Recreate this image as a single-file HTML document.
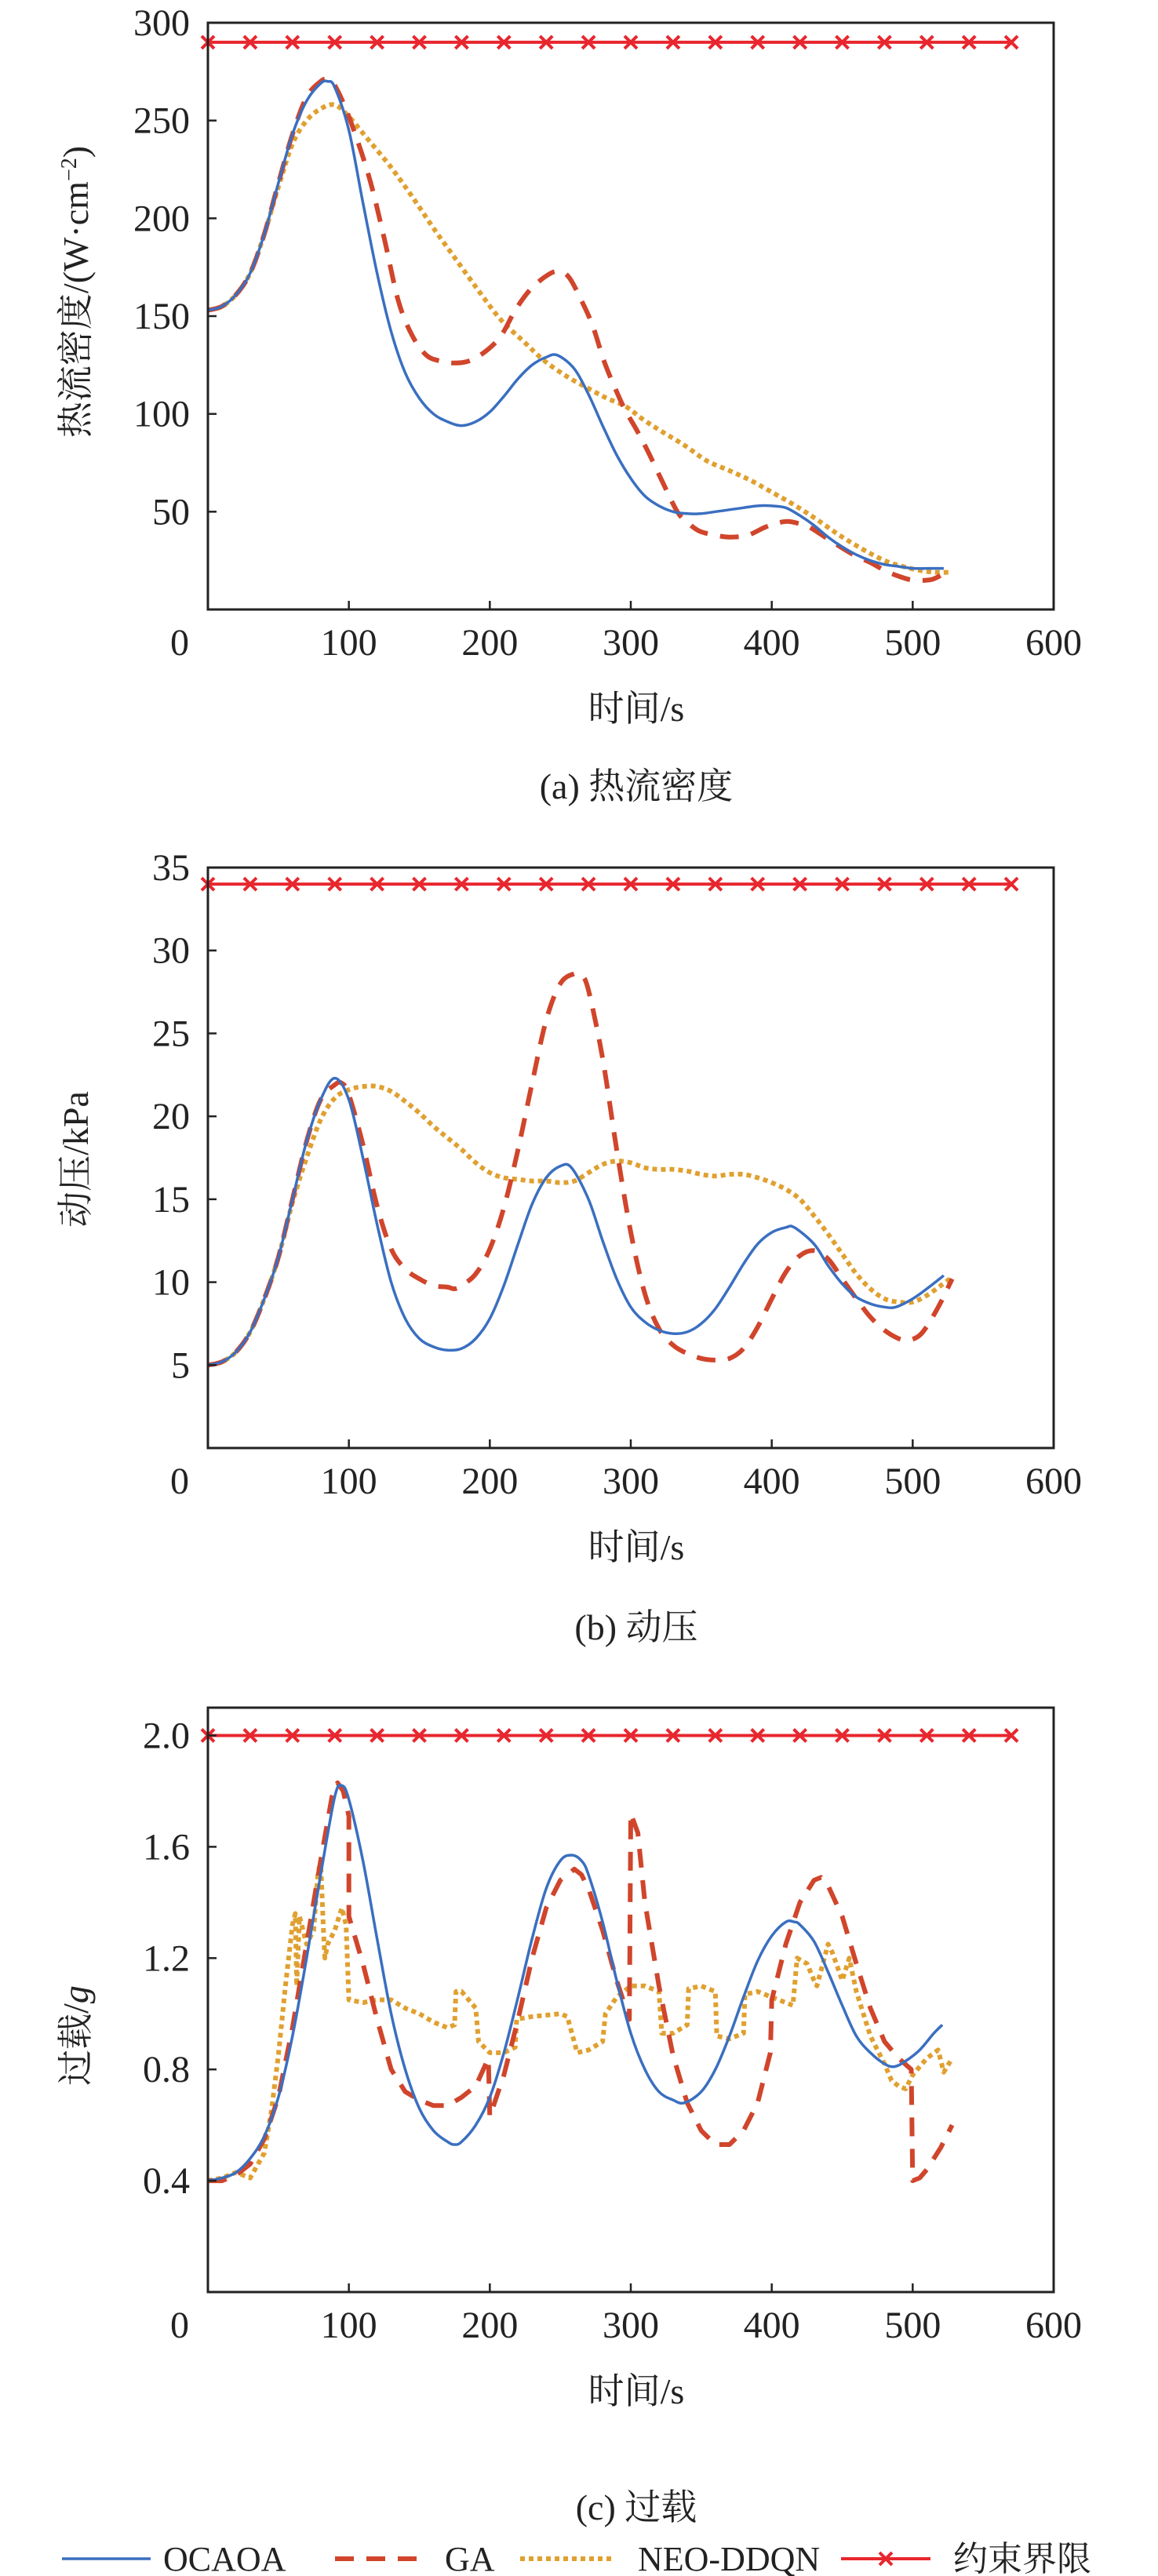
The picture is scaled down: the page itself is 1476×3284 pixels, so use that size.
<!DOCTYPE html>
<html><head><meta charset="utf-8">
<style>
html,body{margin:0;padding:0;background:#fff;}
svg{display:block;}
text{font-family:"Liberation Serif","Noto Serif CJK SC",serif;fill:#222;}
</style></head>
<body>
<svg id="root" width="1476" height="3284" viewBox="0 0 1476 3284" xmlns="http://www.w3.org/2000/svg">
<g id="legend">
  <g>
    <line x1="79" y1="3262" x2="192" y2="3262" stroke="#3a6fc0" stroke-width="3.5"/>
    <text x="208" y="3277" font-size="44">OCAOA</text>
  </g>
  <g>
    <line x1="427" y1="3262" x2="536" y2="3262" stroke="#d0452b" stroke-width="6" stroke-dasharray="24,16"/>
    <text x="567" y="3277" font-size="44">GA</text>
  </g>
  <g>
    <line x1="663" y1="3262" x2="784" y2="3262" stroke="#e0a030" stroke-width="6" stroke-dasharray="6,5"/>
    <text x="813" y="3277" font-size="44">NEO-DDQN</text>
  </g>
  <g>
    <line x1="1072" y1="3262" x2="1186" y2="3262" stroke="#e8262e" stroke-width="4"/>
    <path d="M1121,3254L1137,3270M1121,3270L1137,3254" stroke="#e8262e" stroke-width="4"/>
    <text x="1215" y="3277" font-size="44">约束界限</text>
  </g>
</g>
</svg>
<script>
// ---------- Chart (a) heat flux ----------
const heatOcaoaT = [0,10,20,30,40,50,60,70,80,85,90,100,110,120,130,140,150,160,170,180,190,200,210,220,230,240,248,260,270,280,290,300,310,320,330,340,350,360,370,380,390,400,410,420,430,440,450,460,470,480,490,500,510,522];
const heatOcaoaV = [153,155,161,172,192,218,243,260,269,270,267,245,208,172,142,121,108,100,96,94,96,101,109,118,125,129,130,123,110,94,79,67,58,53,50,49,49,50,51,52,53,53,52,48,43,37,32,28,25,23,22,21,21,21];
const heatGaT = [0,10,20,30,40,50,60,70,80,85,90,100,114,125,135,145,155,165,174,185,197,208,218,228,239,248,256,265,273,281,289,296,304,312,322,333,341,349,360,370,383,395,403,411,419,427,440,458,470,480,490,500,510,516,526];
const heatGaV = [153,155,161,172,192,218,243,262,270,271,268,252,222,190,158,140,130,127,126,127,132,140,153,163,170,173,170,158,145,127,113,102,92,81,66,50,44,40,38,37,38,42,44,45,44,42,36,28,24,20,17,15,15,16,20];
const heatNeoT = [0,10,20,30,40,50,60,70,80,90,100,114,130,145,160,176,192,208,224,239,255,270,283,296,309,322,338,354,370,385,400,417,432,448,464,480,493,505,516,526];
const heatNeoV = [153,155,161,172,192,216,238,250,256,258,252,240,226,211,195,179,163,148,137,127,119,113,108,104,97,91,84,76,71,66,60,53,46,38,31,25,22,20,19,19];
const heatYTicks = [50,100,150,200,250,300];
const heatLimit = 290;

// ---------- Chart (b) dynamic pressure ----------
const presOcaoaT = [0,10,20,30,40,50,60,70,80,90,100,110,120,130,140,150,160,170,180,190,200,210,220,230,240,250,258,270,280,290,300,310,320,330,340,350,360,370,380,390,400,410,416,430,440,450,460,470,480,488,500,510,522];
const presOcaoaV = [5,5.2,5.8,7,9,11.5,15,18.5,21,22.3,21,17.5,13.5,10,7.8,6.6,6.1,5.9,6,6.6,7.8,9.8,12.3,14.7,16.3,17,16.9,15,12.5,10.2,8.5,7.6,7.1,6.9,7,7.5,8.4,9.7,11.1,12.3,13,13.3,13.3,12.3,11,9.9,9.1,8.7,8.5,8.5,9,9.6,10.4];
const presGaT = [0,10,20,30,40,50,60,70,80,90,95,100,110,120,130,140,150,160,170,175,180,190,200,210,220,230,240,250,260,265,270,280,290,300,310,320,330,340,350,360,370,380,390,400,410,420,430,440,450,460,470,480,490,497,505,512,520,528];
const presGaV = [5,5.2,5.8,7,9,11.5,15,18.5,21,21.9,22,21.3,18.3,14.6,12,10.8,10.2,9.8,9.7,9.6,9.8,10.5,12,14.5,18,22,25.8,28,28.6,28.5,27.6,23.5,18,13,9.3,7.2,6.2,5.7,5.4,5.3,5.4,6,7.3,9,10.6,11.6,11.9,11.4,10.2,9,7.9,7.1,6.6,6.5,6.8,7.6,8.8,10.2];
const presNeoT = [0,10,20,30,40,50,60,70,80,90,100,110,120,130,140,150,160,170,180,190,200,210,220,230,240,250,260,270,280,290,300,310,320,330,340,350,360,370,380,390,400,410,420,430,440,450,460,470,480,490,500,510,520,528];
const presNeoV = [5,5.2,5.8,7,9,11.5,14.8,17.5,19.8,21.1,21.6,21.8,21.8,21.5,20.9,20.2,19.4,18.7,18,17.2,16.6,16.3,16.2,16.1,16.1,16,16.1,16.6,17.1,17.3,17.2,16.9,16.8,16.8,16.7,16.5,16.4,16.5,16.5,16.3,16,15.6,15,14,12.9,11.7,10.5,9.6,9,8.8,8.8,9.2,9.8,10.3];
const presYTicks = [5,10,15,20,25,30,35];
const presLimit = 34;

// ---------- Chart (c) overload ----------
const loadOcaoaT = [0,10,20,30,40,50,60,70,80,90,95,100,110,120,130,140,150,160,170,175,180,190,200,210,220,230,240,250,258,265,270,280,290,300,310,320,330,338,350,360,370,380,390,400,410,416,420,430,440,450,460,470,480,487,495,505,515,521];
const loadOcaoaV = [0.4,0.41,0.43,0.48,0.56,0.7,0.92,1.2,1.5,1.78,1.82,1.77,1.55,1.27,1.0,0.8,0.66,0.58,0.54,0.53,0.54,0.6,0.7,0.86,1.06,1.27,1.45,1.55,1.57,1.55,1.5,1.33,1.12,0.93,0.8,0.72,0.69,0.68,0.72,0.8,0.92,1.06,1.19,1.28,1.33,1.33,1.32,1.26,1.15,1.03,0.92,0.86,0.82,0.81,0.83,0.87,0.93,0.96];
const loadGaT = [0,10,20,30,40,50,60,70,80,88,92,96,100,100,110,120,130,140,150,160,170,180,190,199,200,210,220,230,240,250,260,265,270,280,290,299,300,305,310,320,330,340,350,360,370,380,390,399,400,410,420,430,435,440,450,460,470,480,490,499,500,505,510,520,528];
const loadGaV = [0.4,0.4,0.42,0.46,0.55,0.7,0.95,1.25,1.55,1.78,1.83,1.8,1.71,1.35,1.18,0.98,0.8,0.72,0.69,0.67,0.67,0.7,0.74,0.84,0.63,0.78,0.98,1.2,1.38,1.48,1.52,1.5,1.45,1.3,1.12,0.98,1.72,1.65,1.4,1.1,0.85,0.68,0.58,0.53,0.53,0.58,0.68,0.86,1.05,1.25,1.4,1.48,1.49,1.46,1.35,1.18,1.02,0.9,0.84,0.8,0.4,0.41,0.44,0.52,0.6];
const loadNeoT = [0,10,20,25,30,40,45,50,55,60,62,63,65,70,75,78,80,82,83,85,90,95,98,100,110,120,130,140,150,160,170,175,176,180,190,192,200,210,218,219,230,250,255,262,270,280,282,290,300,310,320,322,330,340,341,350,360,361,370,380,381,390,400,410,415,418,425,430,432,440,443,450,455,460,470,480,485,490,495,500,510,518,522,528];
const loadNeoV = [0.4,0.41,0.43,0.42,0.41,0.5,0.65,0.85,1.1,1.32,1.36,1.1,1.35,1.25,1.3,1.5,1.55,1.3,1.2,1.25,1.3,1.38,1.32,1.05,1.04,1.05,1.05,1.02,1.0,0.97,0.95,0.96,1.08,1.08,1.02,0.9,0.86,0.86,0.88,0.98,0.99,1.0,0.99,0.86,0.87,0.9,1.0,1.06,1.1,1.1,1.08,0.93,0.93,0.96,1.09,1.1,1.08,0.92,0.91,0.93,1.07,1.08,1.06,1.04,1.03,1.2,1.18,1.12,1.1,1.25,1.22,1.12,1.2,1.08,0.92,0.82,0.76,0.74,0.73,0.78,0.84,0.87,0.79,0.84];
const loadYTicks = [0.4,0.8,1.2,1.6,2.0];
const loadLimit = 2.0;

const xTicks = [0,100,200,300,400,500,600];
const limitMarkT = [0,30,60,90,120,150,180,210,240,270,300,330,360,390,420,450,480,510,540,570];

const NS = 'http://www.w3.org/2000/svg';
const root = document.getElementById('root');
function mk(tag, attrs, parent){
  const e = document.createElementNS(NS, tag);
  for (const k in attrs) e.setAttribute(k, attrs[k]);
  (parent||root).appendChild(e);
  return e;
}
function smoothPath(P){
  let d = 'M'+P[0][0].toFixed(1)+','+P[0][1].toFixed(1);
  for (let i=0;i<P.length-1;i++){
    const p0 = P[Math.max(0,i-1)], p1 = P[i], p2 = P[i+1], p3 = P[Math.min(P.length-1,i+2)];
    const c1x = p1[0]+(p2[0]-p0[0])/6, c1y = p1[1]+(p2[1]-p0[1])/6;
    const c2x = p2[0]-(p3[0]-p1[0])/6, c2y = p2[1]-(p3[1]-p1[1])/6;
    d += 'C'+c1x.toFixed(1)+','+c1y.toFixed(1)+' '+c2x.toFixed(1)+','+c2y.toFixed(1)+' '+p2[0].toFixed(1)+','+p2[1].toFixed(1);
  }
  return d;
}
function polyPath(P){
  return 'M'+P.map(p=>p[0].toFixed(1)+','+p[1].toFixed(1)).join('L');
}

function drawChart(c){
  const L=265, R=1343, T=c.top, B=c.bottom;
  const xs = t => L + (t/600)*(R-L);
  const ys = v => B - (v - c.ymin)/(c.ymax - c.ymin)*(B-T);
  const g = mk('g', {});
  
  

  function series(T_, V_, style, nm, smooth){
    const P = T_.map((t,i)=>[xs(t), ys(V_[i])]);
    const p = mk('path', Object.assign({d: smooth ? smoothPath(P) : polyPath(P), fill:'none', 'stroke-linejoin':'round'}, style), g);
    
    
  }
  series(c.neoT, c.neoV, {stroke:'#e0a030','stroke-width':6,'stroke-dasharray':'6,5'}, 'neo-ddqn-line', c.smoothNeo);
  series(c.gaT, c.gaV, {stroke:'#d0452b','stroke-width':6,'stroke-dasharray':'24,16'}, 'ga-line', c.smoothGa);
  series(c.ocT, c.ocV, {stroke:'#3a6fc0','stroke-width':3.5}, 'ocaoa-line', true);

  const ly = ys(c.limit);
  const cl = mk('line', {x1:xs(0), x2:xs(570), y1:ly, y2:ly, stroke:'#e8262e','stroke-width':4}, g);
  
  
  limitMarkT.forEach(t=>{
    const x = xs(t), s = 8;
    const m = mk('path', {d:`M${x-s},${ly-s}L${x+s},${ly+s}M${x-s},${ly+s}L${x+s},${ly-s}`, stroke:'#e8262e','stroke-width':4}, g);
    
    
  });

  const fr = mk('rect', {x:L, y:T, width:R-L, height:B-T, fill:'none', stroke:'#222','stroke-width':3}, g);
  
  

  xTicks.forEach(t=>{
    const x = xs(t);
    if (t>0 && t<600){
      const tk = mk('line', {x1:x, x2:x, y1:B, y2:B-11, stroke:'#222','stroke-width':2.5}, g);
      
      
    }
    const lx = t===0 ? 229 : x;
    const tx = mk('text', {x:lx, y:B+58, 'font-size':48, 'text-anchor':'middle'}, g);
    tx.textContent = String(t);
    
    
  });
  c.yTicks.forEach(v=>{
    const y = ys(v);
    if (Math.abs(y-T)>2){
      const tk = mk('line', {x1:L, x2:L+11, y1:y, y2:y, stroke:'#222','stroke-width':2.5}, g);
      
      
    }
    const tx = mk('text', {x:242, y:y+16, 'font-size':48, 'text-anchor':'end'}, g);
    tx.textContent = c.fmt(v);
    
    
  });
  const xt = mk('text', {x:811, y:B+142, 'font-size':46, 'text-anchor':'middle'}, g);
  xt.textContent = '时间/s';
  
  
  const yt = mk('text', {x:0, y:0, 'font-size':46, 'text-anchor':'middle', transform:`translate(112,${c.ytY}) rotate(-90)`}, g);
  yt.innerHTML = c.ytitle;
  
  
  const cap = mk('text', {x:811, y:c.capY, 'font-size':46, 'text-anchor':'middle'}, g);
  cap.textContent = c.caption;
  
  
}

drawChart({name:'heat-flux-chart', top:29, bottom:777, ymin:0, ymax:300,
  ocT:heatOcaoaT, ocV:heatOcaoaV, gaT:heatGaT, gaV:heatGaV, neoT:heatNeoT, neoV:heatNeoV,
  smoothNeo:true, smoothGa:true,
  yTicks:heatYTicks, limit:heatLimit, fmt:v=>String(v),
  ytitle:'热流密度/(W·cm<tspan baseline-shift="super" font-size="28">−2</tspan>)', ytY:372, capY:1018, caption:'(a) 热流密度'});
drawChart({name:'dynamic-pressure-chart', top:1106, bottom:1846, ymin:0, ymax:35,
  ocT:presOcaoaT, ocV:presOcaoaV, gaT:presGaT, gaV:presGaV, neoT:presNeoT, neoV:presNeoV,
  smoothNeo:true, smoothGa:true,
  yTicks:presYTicks, limit:presLimit, fmt:v=>String(v),
  ytitle:'动压/kPa', ytY:1478, capY:2090, caption:'(b) 动压'});
drawChart({name:'overload-chart', top:2177, bottom:2922, ymin:0, ymax:2.1,
  ocT:loadOcaoaT, ocV:loadOcaoaV, gaT:loadGaT, gaV:loadGaV, neoT:loadNeoT, neoV:loadNeoV,
  smoothNeo:false, smoothGa:false,
  yTicks:loadYTicks, limit:loadLimit, fmt:v=>v.toFixed(1),
  ytitle:'过载/<tspan font-style="italic">g</tspan>', ytY:2595, capY:3212, caption:'(c) 过载'});
</script>
</body></html>
